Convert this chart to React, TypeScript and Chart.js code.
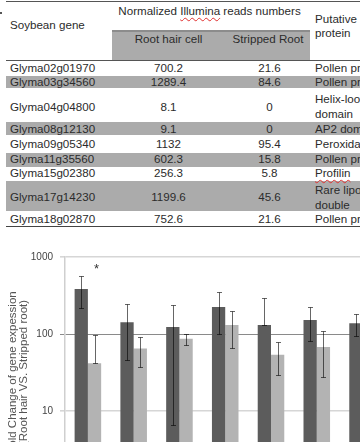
import React, { useEffect, useRef } from "react";
import { Chart, registerables } from "chart.js";

Chart.register(...registerables);

// ---------- data ----------
const genes = [
  "Glyma02g01970",
  "Glyma03g34560",
  "Glyma04g04800",
  "Glyma08g12130",
  "Glyma09g05340",
  "Glyma11g35560",
  "Glyma15g02380",
  "Glyma17g14230",
  "Glyma18g02870",
];
const rootHairReads = ["700.2", "1289.4", "8.1", "9.1", "1132", "602.3", "256.3", "1199.6", "752.6"];
const strippedReads = ["21.6", "84.6", "0", "0", "95.4", "15.8", "5.8", "45.6", "21.6"];
const proteins = [
  ["Pollen proteins Ole e 1 like"],
  ["Pollen proteins Ole e 1 like"],
  ["Helix-loop-helix DNA-binding", "domain"],
  ["AP2 domain"],
  ["Peroxidase"],
  ["Pollen proteins Ole e 1 like"],
  ["Profilin"],
  ["Rare lipoprotein A (RlpA)-like", "double"],
  ["Pollen proteins Ole e 1 like"],
];

const rootHairFold = [384, 142, 123, 225, 131, 152, 138, 160, 145];
const rootHairHigh = [562, 243, 240, 352, 293, 222, 180, 240, 210];
const rootHairLow = [220, 45.8, 6.6, 100, 131, 81, 93.5, 100, 90];
const strippedFold = [41.6, 65, 87, 131, 53.6, 68, 70, 80, 60];
const strippedHigh = [97, 92.4, 101, 200, 79, 109, 110, 120, 95];
const strippedLow = [41.6, 37, 71, 65, 29.3, 27.4, 45, 50, 40];
const significance = ["*", "", "", "", "", "", "", "", ""];
const significanceValue = 730;
const yTicks = [1, 10, 100, 1000];

// ---------- layout (not data) ----------
const rowEdges = [60.5, 76, 88.3, 121.7, 135, 152.7, 166.7, 181, 210.7, 226];
const rowTextCenter = [68.3, 81.7, 106.7, 129, 144.3, 159.3, 173.3, 197.3, 219.3];
const FONT = "'Liberation Sans', Arial, Helvetica, sans-serif";
const FS = 11.6;
const TEXT = "#2b2b2b";
const ROWGRAY = "#ababab";

const errorBarPlugin = {
  id: "errorBars",
  afterDatasetsDraw(chart: any) {
    const { ctx } = chart;
    const y = chart.scales.y;
    ctx.save();
    chart.data.datasets.forEach((ds: any, i: number) => {
      const meta = chart.getDatasetMeta(i);
      meta.data.forEach((bar: any, j: number) => {
        const x = Math.round(bar.x) + 0.5;
        const yh = Math.round(y.getPixelForValue(ds.errorHigh[j])) + 0.5;
        const yl = Math.round(y.getPixelForValue(ds.errorLow[j])) + 0.5;
        ctx.strokeStyle = "rgba(0,0,0,0.6)";
        ctx.lineWidth = 1;
        ctx.beginPath();
        ctx.moveTo(x, yh);
        ctx.lineTo(x, yl);
        ctx.moveTo(x - 2.5, yh);
        ctx.lineTo(x + 2.5, yh);
        ctx.moveTo(x - 2.5, yl);
        ctx.lineTo(x + 2.5, yl);
        ctx.stroke();
        if (ds.marks && ds.marks[j]) {
          ctx.fillStyle = "#333";
          ctx.font = `13px ${FONT}`;
          ctx.textAlign = "center";
          ctx.textBaseline = "middle";
          ctx.fillText(ds.marks[j], bar.x + 2, y.getPixelForValue(significanceValue) + 2);
        }
      });
    });
    ctx.restore();
  },
};

function Txt({ x, y, children, center, style }: any) {
  return (
    <div
      style={{
        position: "absolute",
        left: x,
        top: y - 7,
        height: 14,
        lineHeight: "14px",
        fontSize: FS,
        whiteSpace: "nowrap",
        transform: center ? "translateX(-50%)" : undefined,
        ...style,
      }}
    >
      {children}
    </div>
  );
}

const wavy = {
  textDecorationLine: "underline",
  textDecorationStyle: "wavy",
  textDecorationColor: "#e03030",
  textDecorationThickness: "1px",
  textUnderlineOffset: "2px",
} as any;

export default function App() {
  const ref = useRef<HTMLCanvasElement>(null);

  useEffect(() => {
    const chart = new Chart(ref.current as HTMLCanvasElement, {
      type: "bar",
      data: {
        labels: genes,
        datasets: [
          {
            label: "Root hair",
            data: rootHairFold,
            backgroundColor: "#5c5c5c",
            borderWidth: 0,
            barPercentage: 1,
            categoryPercentage: 0.58,
            errorHigh: rootHairHigh,
            errorLow: rootHairLow,
          } as any,
          {
            label: "Stripped root",
            data: strippedFold,
            backgroundColor: "#b3b3b3",
            borderWidth: 0,
            barPercentage: 1,
            categoryPercentage: 0.58,
            errorHigh: strippedHigh,
            errorLow: strippedLow,
            marks: significance,
          } as any,
        ],
      },
      options: {
        responsive: false,
        animation: false,
        layout: { padding: { left: 7, top: 17, right: 8, bottom: 8 } },
        plugins: { legend: { display: false }, tooltip: { enabled: false } },
        scales: {
          x: { display: false },
          y: {
            type: "logarithmic",
            min: 1,
            max: 1000,
            afterBuildTicks: (scale: any) => {
              scale.ticks = yTicks.map((v) => ({ value: v }));
            },
            afterFit: (scale: any) => {
              scale.width = 58;
            },
            border: { color: "#cfcfcf", width: 1.5 },
            grid: {
              color: (c: any) => (c.tick && c.tick.value === 100 ? "#8a8a8a" : "#d6d6d6"),
              lineWidth: (c: any) => (c.tick && c.tick.value === 100 ? 1 : 1.6),
              tickLength: 5,
            },
            ticks: {
              padding: 7,
              color: "#444",
              font: { family: FONT, size: 10 },
              callback: (v: any) => String(v),
            },
            title: {
              display: true,
              text: ["Fold Change of gene expession", "(Root hair VS. Stripped root)"],
              color: "#555",
              font: { family: FONT, size: 11.5, lineHeight: 1 },
              padding: 0,
            },
          },
        },
      } as any,
      plugins: [errorBarPlugin],
    });
    return () => chart.destroy();
  }, []);

  return (
    <div
      style={{
        position: "fixed",
        left: 0,
        top: 0,
        width: 360,
        height: 442,
        overflow: "hidden",
        background: "#fff",
        fontFamily: FONT,
        color: TEXT,
      }}
    >
      {/* table rules */}
      <div style={{ position: "absolute", left: 0, top: 12, width: 2, height: 1.5, background: "#555" }} />
      <div style={{ position: "absolute", left: 6, right: 0, top: 0.5, height: 1, background: "#555" }} />
      <div
        style={{
          position: "absolute",
          left: 112,
          width: 198,
          top: 29.5,
          height: 30.5,
          background: ROWGRAY,
          borderTop: "2px solid #8c8c8c",
          boxSizing: "border-box",
        }}
      />
      <div style={{ position: "absolute", left: 6, right: 0, top: 60, height: 1, background: "#555" }} />
      {genes.map((g, i) =>
        i % 2 === 1 ? (
          <div
            key={"bg" + i}
            style={{
              position: "absolute",
              left: 6,
              right: 0,
              top: rowEdges[i],
              height: rowEdges[i + 1] - rowEdges[i],
              background: ROWGRAY,
            }}
          />
        ) : null
      )}
      <div style={{ position: "absolute", left: 6, right: 0, top: 225.5, height: 1.5, background: "#444" }} />

      {/* header text */}
      <Txt x={209.5} y={11} center>
        Normalized <span style={wavy}>Illumina</span> reads numbers
      </Txt>
      <Txt x={10} y={25}>Soybean gene</Txt>
      <Txt x={315} y={19}>Putative</Txt>
      <Txt x={315} y={32.5}>protein</Txt>
      <Txt x={168.5} y={38.8} center>Root hair cell</Txt>
      <Txt x={268} y={38.8} center>Stripped Root</Txt>

      {/* body text */}
      {genes.map((g, i) => (
        <React.Fragment key={g}>
          <Txt x={10} y={rowTextCenter[i]}>{g}</Txt>
          <Txt x={168.5} y={rowTextCenter[i]} center>{rootHairReads[i]}</Txt>
          <Txt x={269.5} y={rowTextCenter[i]} center>{strippedReads[i]}</Txt>
          {proteins[i].map((line, k) => (
            <Txt
              key={k}
              x={315}
              y={rowTextCenter[i] + (k - (proteins[i].length - 1) / 2) * 15.5}
              style={line === "Profilin" ? wavy : undefined}
            >
              {line}
            </Txt>
          ))}
        </React.Fragment>
      ))}

      <canvas ref={ref} width={485} height={261} style={{ position: "absolute", left: 0, top: 240 }} />
    </div>
  );
}
